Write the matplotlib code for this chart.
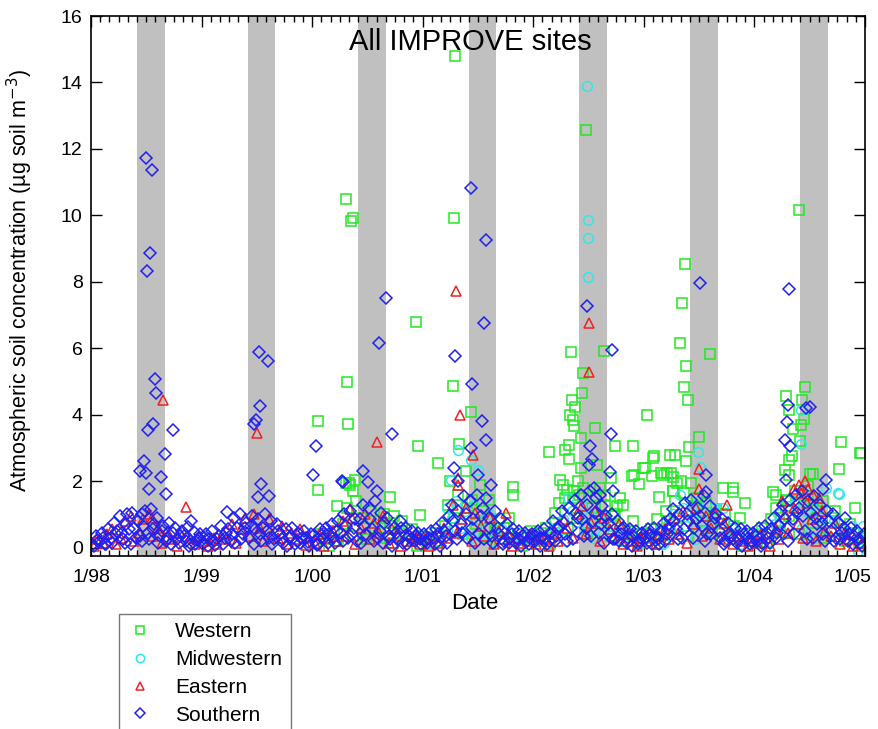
import matplotlib
matplotlib.use('Agg')
import matplotlib.pyplot as plt
from matplotlib.ticker import MultipleLocator
from matplotlib.transforms import ScaledTranslation

plt.rcParams['font.family'] = ['Liberation Sans', 'DejaVu Sans']

# all times are months since 1/98, values in ug soil m-3
south_base = [
    (0.15,0.08),(0.5,0.35),(0.85,0.18),(1.15,0.45),(1.5,0.12),(1.85,0.55),
    (2.15,0.30),(2.5,0.75),(2.85,0.50),(3.15,0.95),(3.5,0.25),(3.85,0.70),
    (4.15,0.55),(4.5,1.05),(4.85,0.30),(5.15,0.80),(5.5,0.20),(5.85,1.10),
    (6.15,0.45),(6.5,1.15),(6.85,0.70),(7.15,0.90),(7.5,0.35),(7.85,0.65),
    (8.15,0.20),(8.5,0.75),(8.85,0.45),(9.15,0.60),(9.5,0.15),(9.85,0.50),
    (10.15,0.35),(10.5,0.62),(10.85,0.10),(11.15,0.48),(11.5,0.22),(11.85,0.40),
    (12.15,0.12),(12.5,0.42),(12.85,0.25),(13.15,0.50),(13.5,0.08),(13.85,0.35),
    (14.15,0.65),(14.5,0.30),(14.85,0.55),(15.15,0.20),(15.5,0.90),(15.85,0.60),
    (16.15,1.00),(16.5,0.40),(16.85,0.75),(17.15,0.30),(17.5,0.95),(17.85,0.55),
    (18.15,0.85),(18.5,0.20),(18.85,1.00),(19.15,0.50),(19.5,0.80),(19.85,0.25),
    (20.15,0.70),(20.5,0.40),(20.85,0.15),(21.15,0.55),(21.5,0.30),(21.85,0.60),
    (22.15,0.10),(22.5,0.45),(22.85,0.30),(23.15,0.50),(23.5,0.18),(23.85,0.40),
    (24.15,0.35),(24.5,0.08),(24.85,0.55),(25.15,0.25),(25.5,0.60),(25.85,0.40),
    (26.15,0.70),(26.5,0.15),(26.85,0.80),(27.15,0.45),(27.5,1.00),(27.85,0.30),
    (28.15,1.10),(28.5,0.60),(28.85,0.20),(29.15,0.85),(29.5,1.30),(29.85,0.40),
    (30.15,1.20),(30.5,0.55),(30.85,1.40),(31.15,0.30),(31.5,1.05),(31.85,0.75),
    (32.15,0.90),(32.5,0.25),(32.85,0.60),(33.15,0.45),(33.5,0.80),(33.85,0.15),
    (34.15,0.60),(34.5,0.35),(34.85,0.50),(35.15,0.20),(35.5,0.45),(35.85,0.10),
    (36.15,0.40),(36.5,0.15),(36.85,0.50),(37.15,0.30),(37.5,0.55),(37.85,0.05),
    (38.15,0.75),(38.5,0.35),(38.85,0.95),(39.15,1.30),(39.5,0.50),(39.85,1.10),
    (40.15,0.70),(40.5,1.55),(40.85,0.30),(41.15,1.40),(41.5,0.85),(41.85,1.60),
    (42.15,0.40),(42.5,1.20),(42.85,1.50),(43.15,0.90),(43.5,0.35),(43.85,1.10),
    (44.15,0.60),(44.5,0.85),(44.85,0.20),(45.15,0.70),(45.5,0.30),(45.85,0.55),
    (46.15,0.15),(46.5,0.50),(46.85,0.35),(47.15,0.45),(47.5,0.10),(47.85,0.40),
    (48.15,0.20),(48.5,0.50),(48.85,0.30),(49.15,0.55),(49.5,0.10),(49.85,0.45),
    (50.15,0.80),(50.5,0.35),(50.85,0.65),(51.15,1.10),(51.5,0.40),(51.85,1.20),
    (52.15,0.60),(52.5,1.45),(52.85,0.90),(53.15,1.60),(53.5,0.35),(53.85,1.30),
    (54.15,1.70),(54.5,0.80),(54.85,1.50),(55.15,0.45),(55.5,1.25),(55.85,0.95),
    (56.15,0.70),(56.5,1.00),(56.85,0.25),(57.15,0.80),(57.5,0.40),(57.85,0.60),
    (58.15,0.15),(58.5,0.55),(58.85,0.35),(59.15,0.50),(59.5,0.20),(59.85,0.45),
    (60.15,0.30),(60.5,0.55),(60.85,0.10),(61.15,0.60),(61.5,0.25),(61.85,0.50),
    (62.15,0.75),(62.5,0.40),(62.85,0.85),(63.15,1.15),(63.5,0.55),(63.85,1.00),
    (64.15,0.30),(64.5,1.35),(64.85,0.80),(65.15,1.45),(65.5,0.60),(65.85,1.20),
    (66.15,0.95),(66.5,1.55),(66.85,0.40),(67.15,1.25),(67.5,0.70),(67.85,1.00),
    (68.15,0.50),(68.5,0.85),(68.85,0.20),(69.15,0.75),(69.5,0.35),(69.85,0.60),
    (70.15,0.15),(70.5,0.55),(70.85,0.40),(71.15,0.50),(71.5,0.10),(71.85,0.45),
    (72.15,0.35),(72.5,0.60),(72.85,0.15),(73.15,0.65),(73.5,0.30),(73.85,0.55),
    (74.15,0.90),(74.5,0.45),(74.85,1.10),(75.15,1.30),(75.5,0.60),(75.85,1.45),
    (76.15,0.85),(76.5,1.60),(76.85,1.20),(77.15,1.70),(77.5,0.50),(77.85,1.40),
    (78.15,1.05),(78.5,1.55),(78.85,0.70),(79.15,1.30),(79.5,0.40),(79.85,1.10),
    (80.15,0.80),(80.5,1.00),(80.85,0.30),(81.15,0.75),(81.5,0.45),(81.85,0.90),
    (82.15,0.20),(82.5,0.60),(82.85,0.35),(83.15,0.50),(83.5,0.15),(83.85,0.40),
]
south_low = [
    (0.32,0.05),(0.68,0.22),(1.32,0.30),(1.68,0.10),(2.32,0.15),(2.68,0.40),
    (3.32,0.45),(3.68,0.15),(4.32,0.10),(4.68,0.60),(5.32,0.35),(5.68,0.65),
    (6.32,0.25),(6.68,0.55),(7.32,0.15),(7.68,0.50),(8.32,0.30),(8.68,0.10),
    (9.32,0.25),(9.68,0.35),(10.32,0.20),(10.68,0.05),(11.32,0.12),(11.68,0.30),
    (12.32,0.28),(12.68,0.05),(13.32,0.20),(13.68,0.25),(14.32,0.10),(14.68,0.45),
    (15.32,0.40),(15.68,0.15),(16.32,0.25),(16.68,0.60),(17.32,0.65),(17.68,0.10),
    (18.32,0.40),(18.68,0.60),(19.32,0.30),(19.68,0.10),(20.32,0.50),(20.68,0.25),
    (21.32,0.05),(21.68,0.35),(22.32,0.20),(22.68,0.15),(23.32,0.30),(23.68,0.05),
    (24.32,0.20),(24.68,0.10),(25.32,0.45),(25.68,0.15),(26.32,0.30),(26.68,0.50),
    (27.32,0.20),(27.68,0.65),(28.32,0.40),(28.68,0.85),(29.32,0.15),(29.68,0.65),
    (30.32,0.85),(30.68,0.20),(31.32,0.50),(31.68,0.15),(32.32,0.35),(32.68,0.05),
    (33.32,0.25),(33.68,0.60),(34.32,0.10),(34.68,0.25),(35.32,0.35),(35.68,0.25),
    (36.32,0.20),(36.68,0.30),(37.32,0.10),(37.68,0.40),(38.32,0.50),(38.68,0.15),
    (39.32,0.80),(39.68,0.25),(40.32,0.45),(40.68,1.00),(41.32,0.60),(41.68,0.15),
    (42.32,0.95),(42.68,0.25),(43.32,0.60),(43.68,0.15),(44.32,0.40),(44.68,0.10),
    (45.32,0.15),(45.68,0.40),(46.32,0.25),(46.68,0.05),(47.32,0.20),(47.68,0.30),
    (48.32,0.35),(48.68,0.05),(49.32,0.30),(49.68,0.20),(50.32,0.20),(50.68,0.55),
    (51.32,0.75),(51.68,0.20),(52.32,0.25),(52.68,1.05),(53.32,0.85),(53.68,0.60),
    (54.32,0.35),(54.68,1.05),(55.32,0.70),(55.68,0.15),(56.32,0.45),(56.68,0.25),
    (57.32,0.20),(57.68,0.55),(58.32,0.30),(58.68,0.05),(59.32,0.10),(59.68,0.30),
    (60.32,0.15),(60.68,0.40),(61.32,0.35),(61.68,0.10),(62.32,0.20),(62.68,0.55),
    (63.32,0.80),(63.68,0.25),(64.32,0.55),(64.68,1.00),(65.32,0.30),(65.68,0.85),
    (66.32,0.65),(66.68,0.20),(67.32,0.40),(67.68,0.90),(68.32,0.30),(68.68,0.10),
    (69.32,0.45),(69.68,0.25),(70.32,0.25),(70.68,0.05),(71.32,0.30),(71.68,0.20),
    (72.32,0.20),(72.68,0.05),(73.32,0.45),(73.68,0.15),(74.32,0.30),(74.68,0.65),
    (75.32,0.85),(75.68,0.20),(76.32,0.40),(76.68,1.05),(77.32,0.95),(77.68,0.25),
    (78.32,0.30),(78.68,0.90),(79.32,0.75),(79.68,0.20),(80.32,0.50),(80.68,0.20),
    (81.32,0.25),(81.68,0.60),(82.32,0.40),(82.68,0.10),(83.32,0.25),(83.68,0.05),
]
south_peak = [
    (5.96,11.73),(6.62,11.37),(6.41,8.87),(6.07,8.33),(6.95,5.09),(7.02,4.65),
    (6.70,3.73),(6.18,3.53),(8.87,3.53),(8.06,2.82),(5.78,2.61),(5.32,2.31),
    (5.94,2.25),(7.56,2.14),(6.30,1.77),(8.17,1.63),(3.9,1.0),(5.5,1.0),
    (10.9,0.8),(14.8,1.07),
    (18.23,5.88),(19.21,5.63),(18.37,4.27),(17.90,3.85),(17.72,3.73),(18.44,1.93),
    (18.16,1.53),(19.32,1.56),
    (24.38,3.07),(24.13,2.19),(27.20,2.0),(27.31,1.99),(29.48,2.32),(30.10,1.98),
    (31.01,1.72),(31.26,6.17),(32.05,7.52),(32.63,3.41),
    (41.28,10.81),(42.84,9.26),(39.50,5.77),(41.39,4.93),(42.47,3.82),(42.86,3.23),
    (41.21,2.99),(42.65,6.77),(39.4,2.4),(39.8,2.0),(42.0,2.2),(43.4,1.9),
    (53.87,7.26),(54.16,3.05),(54.41,2.67),(54.08,2.49),(56.54,5.95),(56.44,3.43),
    (56.36,2.28),(56.69,1.71),(54.6,1.8),(55.2,1.6),
    (66.10,7.96),(66.71,2.19),(66.78,1.68),
    (75.76,7.78),(75.61,4.30),(77.60,4.20),(78.04,4.23),(75.56,3.77),(75.32,3.24),
    (75.86,3.05),(75.40,2.05),(79.76,2.05),(79.40,1.77),
]

east_base = [
    (0.3,0.05),(0.7,0.25),(1.3,0.15),(1.7,0.40),(2.3,0.55),(2.7,0.10),
    (3.3,0.30),(3.7,0.80),(4.3,0.95),(4.7,0.20),(5.3,0.45),(5.7,0.85),
    (6.3,1.00),(6.7,0.35),(7.3,0.60),(7.7,0.15),(8.3,0.50),(8.7,0.25),
    (9.3,0.05),(9.7,0.45),(10.3,1.21),(10.7,0.30),(11.3,0.10),(11.7,0.35),
    (12.3,0.20),(12.7,0.05),(13.3,0.30),(13.7,0.12),(14.3,0.45),(14.7,0.25),
    (15.3,0.70),(15.7,0.15),(16.3,0.55),(16.7,0.90),(17.3,0.35),(17.7,1.00),
    (18.3,0.60),(18.7,0.20),(19.3,0.85),(19.7,0.40),(20.3,0.30),(20.7,0.65),
    (21.3,0.10),(21.7,0.45),(22.3,0.25),(22.7,0.55),(23.3,0.08),(23.7,0.30),
    (24.3,0.15),(24.7,0.40),(25.3,0.05),(25.7,0.30),(26.3,0.50),(26.7,0.20),
    (27.3,0.79),(27.7,0.35),(28.3,0.90),(28.7,0.10),(29.3,0.60),(29.7,1.00),
    (30.3,0.25),(30.7,0.75),(31.3,0.45),(31.7,0.95),(32.3,0.15),(32.7,0.55),
    (33.3,0.35),(33.7,0.05),(34.3,0.40),(34.7,0.20),(35.3,0.30),(35.7,0.10),
    (36.3,0.25),(36.7,0.05),(37.3,0.35),(37.7,0.15),(38.3,0.60),(38.7,0.30),
    (39.3,1.30),(39.7,0.45),(40.3,0.85),(40.7,1.20),(41.3,0.20),(41.7,1.05),
    (42.3,0.65),(42.7,0.35),(43.3,0.90),(43.7,0.10),(44.3,0.50),(44.7,0.25),
    (45.3,0.40),(45.7,0.05),(46.3,0.30),(46.7,0.15),(47.3,0.20),(47.7,0.40),
    (48.3,0.10),(48.7,0.35),(49.3,0.25),(49.7,0.05),(50.3,0.45),(50.7,0.20),
    (51.3,0.84),(51.7,0.59),(52.3,0.30),(52.7,1.00),(53.3,1.25),(53.7,0.40),
    (54.3,0.75),(54.7,1.10),(55.3,0.20),(55.7,0.90),(56.3,0.55),(56.7,0.30),
    (57.3,0.70),(57.7,0.10),(58.3,0.40),(58.7,0.20),(59.3,0.05),(59.7,0.30),
    (60.3,0.20),(60.7,0.45),(61.3,0.10),(61.7,0.35),(62.3,0.55),(62.7,0.25),
    (63.3,0.90),(63.7,0.40),(64.3,1.10),(64.7,0.15),(65.3,0.70),(65.7,1.20),
    (66.3,0.35),(66.7,0.95),(67.3,0.60),(67.7,1.05),(68.3,0.25),(68.7,0.75),
    (69.3,0.45),(69.7,0.10),(70.3,0.35),(70.7,0.20),(71.3,0.05),(71.7,0.30),
    (72.3,0.15),(72.7,0.40),(73.3,0.30),(73.7,0.05),(74.3,0.55),(74.7,0.25),
    (75.3,1.00),(75.7,0.45),(76.3,1.20),(76.7,0.70),(77.3,0.30),(77.7,1.35),
    (78.3,0.85),(78.7,0.20),(79.3,1.10),(79.7,0.50),(80.3,0.35),(80.7,0.75),
    (81.3,0.10),(81.7,0.40),(82.3,0.25),(82.7,0.05),(83.3,0.30),(83.7,0.15),
]
east_peak = [
    (7.81,4.43),(18.05,3.45),(31.0,3.18),(39.65,7.72),(40.0,3.98),(41.42,2.78),
    (54.01,6.75),(54.05,5.30),(65.95,2.36),(66.02,1.77),(76.3,1.77),(77.05,1.65),
    (77.86,1.77),(39.8,2.1),(39.8,1.9),(28.1,1.16),(69.0,1.29),(45.0,1.04),
    (76.8,1.9),(77.5,2.0),(78.4,1.6),(79.0,1.5),(75.0,1.4),(6.62,0.89),
]

midwest_base = [
    (36.6,0.15),(37.6,0.35),(38.6,0.50),(39.2,0.90),(39.6,1.40),(40.2,0.60),
    (40.6,1.10),(41.2,0.30),(41.6,1.30),(42.2,0.80),(42.6,0.40),(43.2,1.00),
    (43.6,0.20),(44.6,0.55),(45.6,0.30),(46.6,0.10),(47.6,0.40),
    (48.6,0.25),(49.6,0.05),(50.2,0.60),(50.6,0.35),(51.2,0.85),(51.6,0.20),
    (52.2,1.10),(52.6,0.50),(53.2,1.30),(53.6,0.75),(54.2,1.00),(54.6,0.30),
    (55.2,0.85),(55.6,0.45),(56.6,0.65),(57.6,0.20),(58.6,0.40),(59.6,0.10),
    (60.6,0.30),(61.6,0.50),(62.2,0.15),(62.6,0.70),(63.2,1.00),(63.6,0.40),
    (64.2,1.20),(64.6,0.65),(65.2,0.90),(65.6,0.25),(66.2,1.10),(66.6,0.50),
    (67.2,0.80),(67.6,1.20),(68.6,0.35),(69.6,0.60),(70.6,0.10),(71.6,0.30),
    (72.6,0.45),(73.6,0.20),(74.2,0.70),(74.6,1.00),(75.2,0.40),(75.6,1.25),
    (76.2,0.85),(76.6,1.40),(77.2,0.60),(77.6,1.10),(78.2,1.30),(78.6,0.30),
    (79.2,0.95),(79.6,0.55),(80.6,0.80),(81.6,0.40),(82.6,0.65),(83.2,-0.10),
    (83.6,0.25),
]
midwest_peak = [
    (53.87,13.88),(53.98,9.86),(53.90,9.33),(53.98,8.14),(65.9,2.88),(66.1,2.43),
    (77.05,4.15),(77.05,3.12),(81.2,1.61),(79.8,1.8),(39.8,2.95),(39.07,2.05),
    (42.0,2.35),(38.6,1.19),(41.2,2.65),(63.9,1.59),(65.9,1.39),(68.6,1.19),
    (81.1,1.64),(83.8,0.64),(51.8,1.49),
]

west_base = [
    (24.4,0.10),(24.8,0.40),(25.4,0.25),(25.8,0.05),(26.4,0.50),(26.8,0.20),
    (27.4,0.70),(27.8,1.20),(28.4,0.35),(28.8,1.40),(29.4,0.90),(29.8,0.25),
    (30.4,1.10),(30.8,0.60),(31.4,0.30),(31.8,1.00),(32.4,0.75),(32.8,0.15),
    (33.4,0.45),(33.8,0.80),(34.4,0.20),(34.8,0.55),(35.4,0.05),(35.8,0.35),
    (36.4,0.30),(36.8,0.10),(37.4,0.45),(37.8,0.20),(38.4,0.65),(38.8,1.30),
    (39.4,0.90),(39.8,1.60),(40.4,0.40),(40.8,1.20),(41.4,1.45),(41.8,0.70),
    (42.4,1.10),(42.8,0.30),(43.4,0.85),(43.8,0.50),(44.4,0.15),(44.8,0.60),
    (45.4,0.90),(45.8,0.25),(46.4,0.40),(46.8,0.05),(47.4,0.30),(47.8,0.50),
    (48.4,0.20),(48.8,0.45),(49.4,0.60),(49.8,0.10),(50.4,0.75),(50.8,1.35),
    (51.4,1.50),(51.8,0.55),(52.4,1.70),(52.8,0.90),(53.4,1.80),(53.8,0.40),
    (54.4,1.20),(54.8,1.55),(55.4,0.70),(55.8,1.25),(56.4,0.35),(56.8,0.95),
    (57.4,0.60),(57.8,0.20),(58.4,0.50),(58.8,0.80),(59.4,0.15),(59.8,0.40),
    (60.4,0.30),(60.8,0.55),(61.4,0.85),(61.8,0.10),(62.4,1.10),(62.8,0.60),
    (63.4,1.40),(63.8,0.90),(64.4,1.65),(64.8,0.35),(65.4,1.25),(65.8,1.50),
    (66.4,0.80),(66.8,1.35),(67.4,0.45),(67.8,1.15),(68.4,0.70),(68.8,1.00),
    (69.4,0.25),(69.8,0.65),(70.4,0.90),(70.8,0.05),(71.4,0.40),(71.8,0.20),
    (72.4,0.35),(72.8,0.60),(73.4,0.15),(73.8,0.85),(74.4,1.20),(74.8,0.50),
    (75.4,1.45),(75.8,0.95),(76.4,1.70),(76.8,0.40),(77.4,1.30),(77.8,1.55),
    (78.4,0.75),(78.8,1.20),(79.4,1.40),(79.8,0.30),(80.4,0.90),(80.8,1.10),
    (81.4,0.55),(81.8,0.20),(82.4,0.70),(82.8,0.45),(83.4,0.05),(83.8,0.30),
]
west_peak = [
    (27.64,10.5),(28.48,9.92),(28.21,9.83),(27.78,4.99),(24.64,3.81),(27.85,3.73),
    (24.6,1.74),(28.1,1.9),(28.03,1.96),(28.66,2.05),(32.45,1.52),(35.3,6.79),
    (35.45,3.07),(26.66,1.24),(27.7,1.95),(28.4,1.7),(31.9,0.59),(32.9,0.95),
    (35.7,0.99),(37.7,2.55),
    (39.54,14.8),(39.43,9.92),(39.32,4.86),(41.21,4.07),(39.9,3.13),(40.7,2.3),
    (42.2,1.9),(43.2,1.45),(39.0,2.0),(45.76,1.84),(45.8,1.6),
    (52.13,5.9),(53.44,5.25),(53.32,4.67),(52.2,4.45),(52.56,4.22),(51.98,4.0),
    (52.34,3.84),(52.45,3.65),(54.66,3.61),(53.21,3.3),(51.91,3.1),(51.48,2.94),
    (49.74,2.89),(51.91,2.67),(53.21,2.41),(53.76,12.57),(55.68,5.93),(56.9,3.07),
    (50.9,2.05),(51.2,1.9),(51.7,1.74),(52.9,2.0),(52.3,1.5),(53.0,1.6),
    (57.4,1.49),(57.7,1.3),(57.1,1.25),(56.9,1.0),(50.4,1.04),(54.9,2.5),
    (55.2,1.8),(55.8,1.6),(56.4,2.1),
    (58.79,3.07),(62.83,2.78),(63.38,2.78),(61.0,2.7),(64.9,3.03),(65.95,3.32),
    (64.54,2.6),(60.12,2.39),(58.68,2.17),(60.85,2.17),(59.47,1.93),(62.22,2.2),
    (63.19,2.13),(63.64,1.95),(65.11,1.96),(68.63,1.81),(69.64,1.81),(69.64,1.68),
    (61.68,1.54),(63.19,1.72),(60.37,3.98),(64.46,8.54),(64.14,7.36),(63.89,6.16),
    (67.18,5.82),(64.57,5.48),(64.32,4.85),(64.79,4.45),(58.9,2.2),(59.9,2.4),
    (61.1,2.75),(61.9,2.25),(62.5,2.25),(63.0,2.25),(63.2,1.7),(64.0,2.0),
    (70.98,1.34),(67.6,0.94),
    (76.8,10.17),(75.4,4.58),(75.79,4.15),(77.52,4.83),(77.2,4.45),(77.41,3.87),
    (77.03,3.68),(76.22,3.58),(76.92,3.2),(76.12,2.75),(75.76,2.64),(81.36,3.18),
    (83.53,2.86),(81.22,2.37),(75.32,2.33),(75.79,2.2),(78.04,2.22),(78.32,2.22),
    (77.82,1.85),(74.04,1.69),(74.3,1.6),(75.6,1.4),(82.9,1.19),(83.46,2.85),
]

years = [1998, 1999, 2000, 2001, 2002, 2003, 2004, 2005]
year_labels = ['1/98', '1/99', '1/00', '1/01', '1/02', '1/03', '1/04', '1/05']


def unpack(pts):
    return [1998 + p[0] / 12.0 for p in pts], [p[1] for p in pts]


fig = plt.figure(figsize=(8.79, 7.29), dpi=100)
ax = fig.add_axes([0.1035, 0.2373, 0.8805, 0.7407])

# summer months (jun-aug) shaded
for yr in years[:-1]:
    ax.axvspan(yr + 5 / 12.0, yr + 8 / 12.0, color='#c0c0c0', lw=0, zorder=0)

series = [
    ('Western', west_base + west_peak, 's', 6.5, '#22e822'),
    ('Midwestern', midwest_base + midwest_peak, 'o', 7, '#30e8e8'),
    ('Eastern', east_base + east_peak, '^', 6.5, '#f02020'),
    ('Southern', south_low + south_base + south_peak, 'D', 6.5, '#2020f0'),
]
handles = []
for name, pts, mk, ms, col in series:
    x, y = unpack(pts)
    h, = ax.plot(x, y, ls='none', marker=mk, ms=ms, mfc='none', mec=col,
                 mew=1.1, label=name, zorder=2)
    handles.append(h)

ax.set_xlim(1998, 2005)
ax.set_ylim(-0.25, 16)
ax.set_xticks(years)
ax.set_xticklabels(year_labels)
ax.xaxis.set_minor_locator(MultipleLocator(1 / 12.0))
ax.set_yticks(range(0, 17, 2))
ax.tick_params(which='both', direction='in', top=True, right=True, labelsize=14)
ax.tick_params(which='major', length=8, width=1)
ax.tick_params(which='minor', length=4, width=1)
ax.tick_params(axis='x', pad=9)
ax.tick_params(axis='y', pad=6)
for s in ax.spines.values():
    s.set_linewidth(1.2)

# last date label sits a little left so it stays inside the figure
last = ax.get_xticklabels()[-1]
last.set_transform(last.get_transform() + ScaledTranslation(-9 / 72, 0, fig.dpi_scale_trans))

ax.set_xlabel('Date', fontsize=16)
ax.xaxis.set_label_coords(0.496, -0.068)
ax.set_ylabel('Atmospheric soil concentration (\u00b5g soil m$^{-3}$)', fontsize=15.5)
ax.yaxis.set_label_coords(-0.072, 0.51)

ax.text(0.49, 0.952, 'All IMPROVE sites', transform=ax.transAxes,
        ha='center', va='center', fontsize=21)

fig.legend(handles=handles, loc='upper left', bbox_to_anchor=(119 / 879, 1 - 614 / 729),
           fontsize=15, frameon=True, fancybox=False, edgecolor='#555555',
           borderaxespad=0, borderpad=0.4, handlelength=1.2, handletextpad=1.1,
           labelspacing=0.42, markerscale=0.85)

plt.savefig('out.png', dpi=100)
